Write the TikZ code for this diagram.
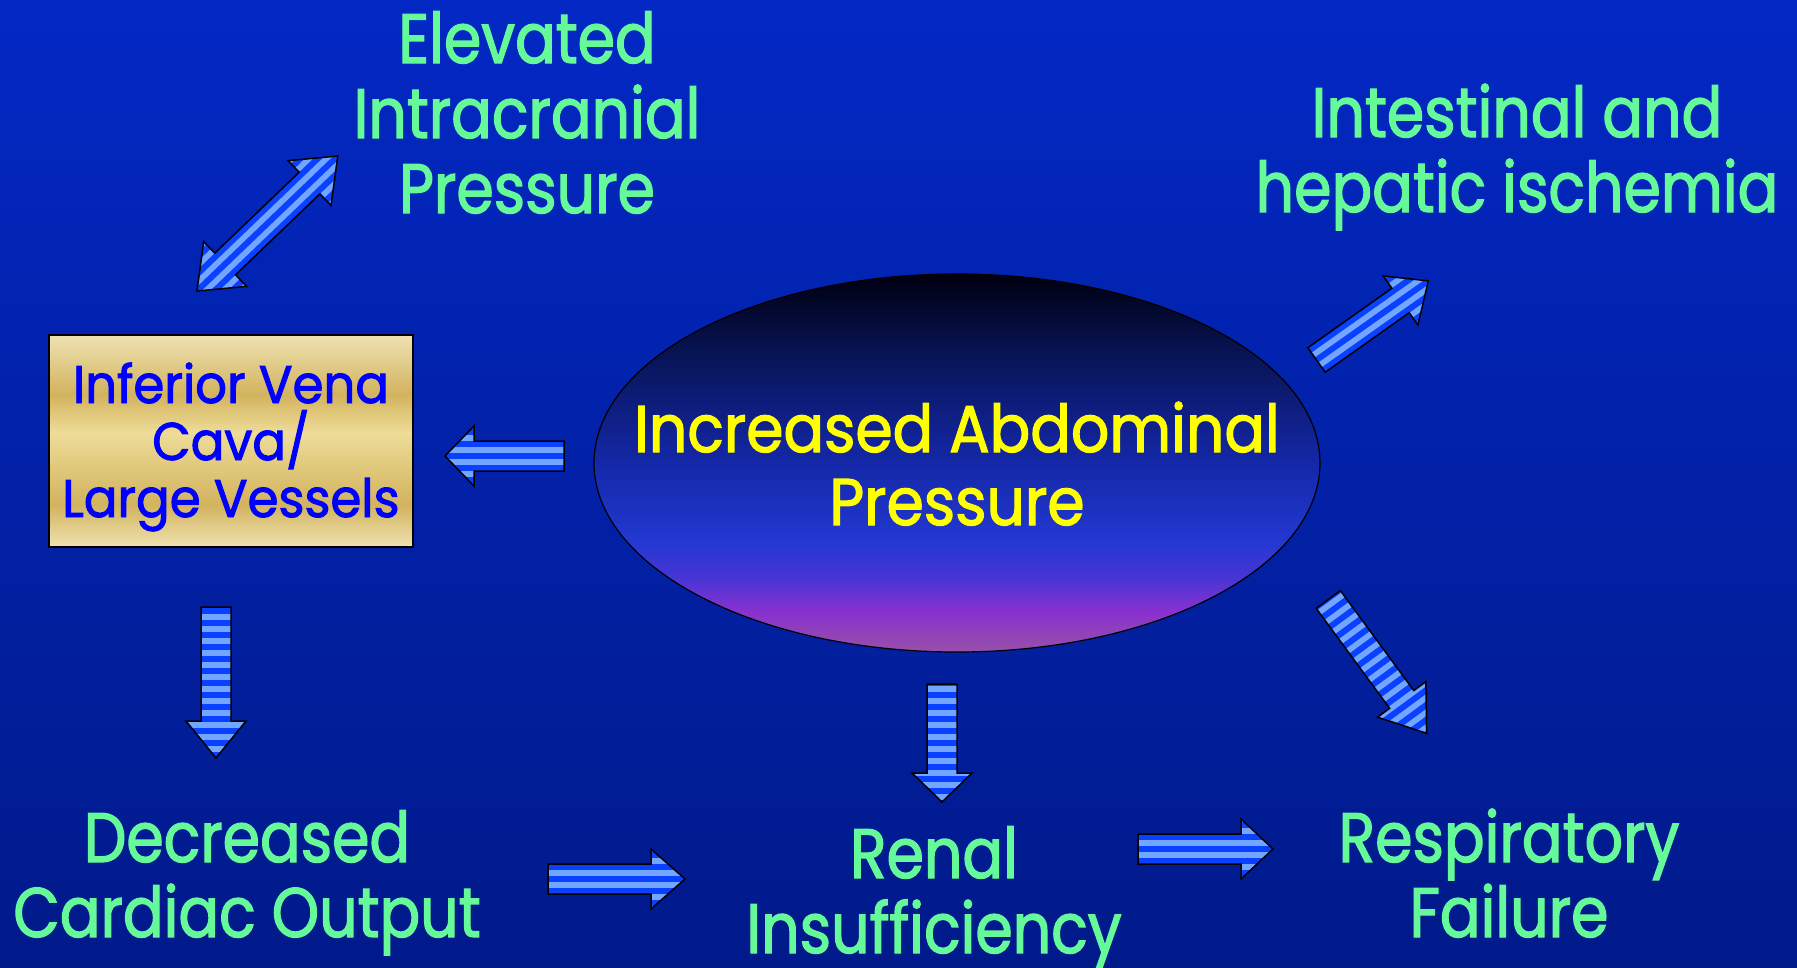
\documentclass[tikz,border=0pt]{standalone}
\usepackage{fontspec}
\usetikzlibrary{shapes.geometric}
\newfontfamily\comic{Poppins}[FakeStretch=0.91, FakeBold=1.8]
\newfontfamily\comicn{Poppins}[FakeStretch=0.86, FakeBold=1.8]
\newfontfamily\comicb{Poppins}[FakeStretch=0.94, FakeBold=1.8]
\definecolor{bgTop}{HTML}{0328C4}
\definecolor{bgBot}{HTML}{011A8A}
\definecolor{lblgreen}{HTML}{66F99A}
\definecolor{lblyellow}{HTML}{FFFF00}
\definecolor{lblblue}{HTML}{0000FF}
\definecolor{stripeL}{HTML}{72A6FF}
\definecolor{stripeD}{HTML}{0A40FF}
\definecolor{goldL}{HTML}{EEE2B2}
\definecolor{goldM}{HTML}{EEDC98}
\definecolor{goldD}{HTML}{D2B35E}
\definecolor{ellA}{HTML}{9850A8}
\definecolor{ellB}{HTML}{8830D0}
\definecolor{ellC}{HTML}{4535D5}
\definecolor{ellD}{HTML}{2238D0}
\definecolor{ellE}{HTML}{1428A8}
\definecolor{ellF}{HTML}{081458}
\definecolor{ellG}{HTML}{000010}
\pgfdeclareverticalshading{goldshade}{100bp}{color(0bp)=(goldL); color(25bp)=(goldL); color(35bp)=(goldD); color(52bp)=(goldM); color(61bp)=(goldD); color(75bp)=(goldL); color(100bp)=(goldL)}
\pgfdeclareverticalshading{abdshade}{100bp}{color(0bp)=(ellA); color(25bp)=(ellA); color(30.5bp)=(ellB); color(35bp)=(ellC); color(40bp)=(ellD); color(50bp)=(ellE); color(64bp)=(ellF); color(75bp)=(ellG); color(100bp)=(ellG)}
\tikzset{
  greenlbl/.style={text=lblgreen, font=\comicn\fontsize{70}{75}\selectfont, align=center, inner sep=0pt, anchor=base},
  arrline/.style={draw=black, line width=1.5pt, line join=miter},
}
\newcommand\stripefill[2]{%
  \fill[stripeL] (-40,-220) rectangle ({#1+40},220);
  \begin{scope}[rotate around={#2:({#1/2},0)}]
    \foreach \k in {-22,...,22} {\fill[stripeD] ({#1/2-240},{\k*12-3}) rectangle ({#1/2+240},{\k*12+3});}
  \end{scope}}
% single block arrow: #1 start coord, #2 angle, #3 length, #4 head length, #5 stripe angle
\newcommand\sarrow[5]{%
  \begin{scope}[shift={(#1)},rotate=#2]
    \begin{scope}
      \clip (0,-15) -- ({#3-#4},-15) -- ({#3-#4},-30) -- (#3,0) -- ({#3-#4},30) -- ({#3-#4},15) -- (0,15) -- cycle;
      \stripefill{#3}{#5}
    \end{scope}
    \draw[arrline] (0,-15) -- ({#3-#4},-15) -- ({#3-#4},-30) -- (#3,0) -- ({#3-#4},30) -- ({#3-#4},15) -- (0,15) -- cycle;
  \end{scope}}
% double block arrow
\newcommand\darrow[5]{%
  \begin{scope}[shift={(#1)},rotate=#2]
    \begin{scope}
      \clip (#4,-15) -- ({#3-#4},-15) -- ({#3-#4},-31) -- (#3,0) -- ({#3-#4},31) -- ({#3-#4},15) -- (#4,15) -- (#4,31) -- (0,0) -- (#4,-31) -- cycle;
      \stripefill{#3}{#5}
    \end{scope}
    \draw[arrline] (#4,-15) -- ({#3-#4},-15) -- ({#3-#4},-31) -- (#3,0) -- ({#3-#4},31) -- ({#3-#4},15) -- (#4,15) -- (#4,31) -- (0,0) -- (#4,-31) -- cycle;
  \end{scope}}
\begin{document}
\begin{tikzpicture}[x=1pt,y=1pt]
\useasboundingbox (0,0) rectangle (1797,-967);
\shade[top color=bgTop, bottom color=bgBot] (0,0) rectangle (1797,-967);

% central ellipse
\node[ellipse, draw=black, line width=1.2pt, shading=abdshade, minimum width=726pt, minimum height=378pt, inner sep=0pt] (ell) at (957,-463) {};
\node[text=lblyellow, font=\comic\fontsize{66}{73}\selectfont, align=center, inner sep=0pt, anchor=base] (elltext) at (957,-525) {Increased Abdominal\\Pressure};

% box
\node[draw=black, line width=1.5pt, shading=goldshade, minimum width=364pt, minimum height=212pt, inner sep=0pt] (box) at (231,-441) {};
\node[text=lblblue, font=\comicb\fontsize{53}{57}\selectfont, align=center, inner sep=0pt, anchor=base] (boxtext) at (231,-517) {Inferior Vena\\Cava/\\Large Vessels};

% labels
\node[greenlbl] (elev) at (527,-213) {Elevated\\Intracranial\\Pressure};
\node[greenlbl] (intest) at (1517,-212) {Intestinal and\\hepatic ischemia};
\node[greenlbl] (decr) at (247,-937) {Decreased\\Cardiac Output};
\node[greenlbl] (renal) at (934,-953) {Renal\\Insufficiency};
\node[greenlbl] (resp) at (1509,-937) {Respiratory\\Failure};

% arrow anchor coordinates
\coordinate (a1) at (197,-291);
\coordinate (a2) at (564,-456);
\coordinate (a3) at (216,-607);
\coordinate (a4) at (548,-879);
\coordinate (a5) at (942,-684);
\coordinate (a6) at (1138,-849);
\coordinate (a7) at (1316.5,-360);
\coordinate (a8) at (1328.3,-599.5);

\darrow{a1}{43.8}{195}{39}{0}
\sarrow{a2}{180}{119}{29}{0}
\sarrow{a3}{-90}{151}{37}{90}
\sarrow{a4}{0}{137}{34}{0}
\sarrow{a5}{-90}{118}{29}{90}
\sarrow{a6}{0}{135}{32}{0}
\sarrow{a7}{35.3}{137}{34}{0}
\sarrow{a8}{-53.7}{166}{42}{90}
\end{tikzpicture}
\end{document}
